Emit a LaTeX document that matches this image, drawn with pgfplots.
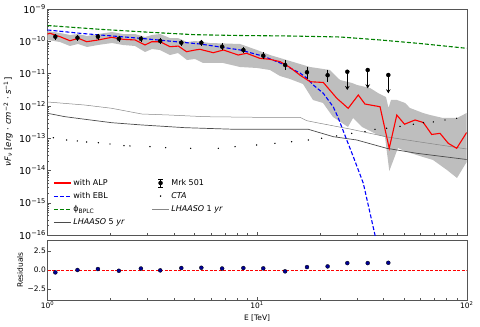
\documentclass[border=0pt]{standalone}
\usepackage{fontspec}
\setmainfont{DejaVu Sans}
\usepackage{pgfplots}
\pgfplotsset{compat=1.18}
\usetikzlibrary{arrows.meta}

\definecolor{bandgray}{RGB}{190,190,190}
\definecolor{framegray}{RGB}{85,85,85}
\definecolor{lhfive}{RGB}{75,75,75}
\definecolor{lhone}{RGB}{135,135,135}
\definecolor{mplgreen}{RGB}{0,128,0}
\definecolor{navy}{RGB}{0,0,150}

\begin{document}
\begin{tikzpicture}
% ---------------- main SED panel ----------------
\begin{axis}[at={(47.5pt,92pt)}, anchor=south west,
  scale only axis, width=419.2pt, height=226pt,
  xmode=log, xmin=1, xmax=100,
  ymode=log, ymin=1e-16, ymax=1e-9,
  axis line style={framegray}, tick align=inside,
  xtick pos=bottom, ytick pos=left,
  major tick length=3.5pt, minor tick length=2pt,
  tick style={framegray},
  xtick={1,10,100}, xticklabels={,,},
  ytick={1e-16,1e-15,1e-14,1e-13,1e-12,1e-11,1e-10,1e-9},
  yticklabels={10\textsuperscript{−16},10\textsuperscript{−15},10\textsuperscript{−14},10\textsuperscript{−13},
               10\textsuperscript{−12},10\textsuperscript{−11},10\textsuperscript{−10},10\textsuperscript{−9}},
  yticklabel style={font=\fontsize{9.5}{11}\selectfont, inner sep=1.5pt},
  ylabel={\textit{νF}\textsubscript{\textit{ν}} [\textit{erg} · \textit{cm}\textsuperscript{−2} · \textit{s}\textsuperscript{−1}]},
  ylabel style={at={(axis description cs:-0.094,0.5)}, anchor=center, font=\fontsize{8.5}{10}\selectfont},
  legend columns=2,
  legend cell align=left,
  legend style={at={(0.006,0.2655)}, anchor=north west, draw=none, fill=none,
    font=\fontsize{8}{9.6}\selectfont, row sep=1.5pt,
    /tikz/every even column/.append style={column sep=25pt}},
]

% ALP uncertainty band (upper edge, then lower edge backwards)
\addplot[fill=bandgray, draw=none, forget plot] coordinates {
 (1.000,2.08e-10) (1.147,1.81e-10) (1.280,1.57e-10) (1.398,1.68e-10) (1.543,1.46e-10)
 (1.741,1.68e-10) (2.031,1.94e-10) (2.292,1.68e-10) (2.616,1.68e-10) (2.919,1.36e-10)
 (3.152,1.57e-10) (3.441,1.68e-10) (3.841,1.26e-10) (4.195,1.26e-10) (4.630,9.51e-11)
 (5.054,1.02e-10) (5.962,8.85e-11) (8.287,8.25e-11) (9.99,5.37e-11) (11.52,3.76e-11)
 (12.86,3.04e-11) (14.35,2.45e-11) (16.02,1.98e-11) (17.88,1.60e-11) (22.27,1.29e-11)
 (24.86,6.33e-12) (28.37,5.11e-12) (29.98,4.43e-12) (34.57,3.58e-12) (37.75,2.50e-12)
 (41.21,1.88e-12) (42.36,8.59e-13) (43.54,1.52e-12) (46.50,1.52e-12) (50.77,1.23e-12)
 (53.63,8.59e-13) (61.87,6.02e-13) (66.83,5.22e-13) (77.09,4.21e-13) (89.90,4.21e-13)
 (100,6.02e-13)
 (100,1.83e-14) (89.90,5.84e-15) (80.53,1.03e-14) (69.07,2.11e-14) (61.87,2.61e-14)
 (51.90,3.73e-14) (47.00,4.96e-14) (42.73,9.6e-15) (40.76,1.09e-13) (37.75,1.25e-13)
 (31.66,2.22e-13) (28.69,4.21e-13) (27.14,2.22e-13) (25.41,2.95e-13) (23.02,4.52e-13)
 (20.63,1.23e-12) (18.48,1.52e-12) (16.56,4.76e-12) (14.35,6.79e-12) (12.86,8.41e-12)
 (11.52,1.29e-11) (9.99,1.49e-11) (8.287,1.60e-11) (6.876,2.13e-11) (5.520,2.13e-11)
 (5.054,2.83e-11) (4.630,2.63e-11) (4.195,4.34e-11) (3.841,3.76e-11) (3.441,5.37e-11)
 (3.152,5.77e-11) (2.919,4.66e-11) (2.616,7.15e-11) (2.292,7.68e-11) (2.031,8.85e-11)
 (1.741,7.68e-11) (1.543,6.66e-11) (1.398,8.25e-11) (1.280,7.15e-11) (1.147,9.51e-11)
 (1.000,1.10e-10)
} -- cycle;

% LHAASO 1 yr sensitivity
\addplot[lhone, line width=0.5pt, forget plot] coordinates {
 (1.0,1.32e-12) (1.510,1.06e-12) (2.025,8.41e-13) (2.815,5.60e-13) (3.771,5.22e-13)
 (5.642,4.62e-13) (9.77,4.43e-13) (16.02,4.43e-13) (17.25,3.48e-13) (19.96,2.88e-13)
 (27.75,1.92e-13) (41.66,1.09e-13) (59.88,7.60e-14) (100,4.62e-14)
};
% LHAASO 5 yr sensitivity
\addplot[lhfive, line width=0.7pt, forget plot] coordinates {
 (1.0,5.89e-13) (1.212,4.62e-13) (1.510,3.84e-13) (2.025,3.01e-13) (2.815,2.56e-13)
 (4.529,2.11e-13) (7.85,1.88e-13) (17.55,1.88e-13) (23.10,1.11e-13) (29.88,8.77e-14)
 (41.5,4.85e-14) (57.73,3.40e-14) (100,2.18e-14)
};
% CTA sensitivity
\addplot[only marks, mark=*, mark size=0.45pt, black, forget plot] coordinates {
 (1.066,1.03e-13) (1.235,8.77e-14) (1.387,8.17e-14) (1.538,7.60e-14) (1.748,7.23e-14)
 (1.987,6.59e-14) (2.317,5.84e-14) (2.475,5.72e-14) (3.083,5.44e-14) (3.664,5.06e-14)
 (4.823,4.85e-14) (6.53,4.85e-14) (7.85,5.44e-14) (9.95,6.14e-14) (12.17,6.93e-14)
 (14.62,7.77e-14) (17.55,8.77e-14) (20.33,9.90e-14) (23.98,1.17e-13) (28.27,1.41e-13)
 (32.71,1.59e-13) (36.52,1.88e-13) (41.5,2.02e-13) (48.07,2.33e-13) (55.63,2.69e-13)
 (62.1,3.01e-13) (69.28,3.17e-13) (78.8,3.65e-13) (89.6,4.12e-13)
};
% with EBL
\addplot[blue, line width=1.1pt, dash pattern=on 4pt off 2pt, forget plot] coordinates {
 (1.0,2.24e-10) (1.429,1.77e-10) (2.763,1.24e-10) (5.34,8.25e-11) (8.287,5.4e-11)
 (10.71,3.45e-11) (13.6,1.85e-11) (14.35,1.49e-11) (16.02,1.04e-11) (17.25,7.3e-12)
 (18.54,4.43e-12) (20.7,2.45e-12) (23.10,9.23e-13) (24.40,4.21e-13) (26.77,8.77e-14)
 (28.77,2.67e-14) (32.12,4.0e-15) (36.52,1e-16) (38.6,2.4e-17)
};
% phi_BPLC
\addplot[mplgreen, line width=1.1pt, dash pattern=on 4pt off 2pt, forget plot] coordinates {
 (1.0,3.08e-10) (1.780,2.35e-10) (3.083,1.90e-10) (5.054,1.60e-10) (8.287,1.51e-10)
 (14.35,1.46e-10) (24.86,1.36e-10) (38.6,1.10e-10) (59.88,8.54e-11) (100,6.07e-11)
};
% with ALP
\addplot[red, line width=1.1pt, forget plot] coordinates {
 (1.00,1.68e-10) (1.028,1.77e-10) (1.147,1.39e-10) (1.280,1.04e-10) (1.403,1.24e-10)
 (1.538,9.7e-11) (1.748,1.10e-10) (2.025,1.33e-10) (2.30,1.15e-10) (2.616,1.10e-10)
 (2.92,7.7e-11) (3.14,9.7e-11) (3.44,9.7e-11) (3.84,6.8e-11) (4.21,7.1e-11)
 (4.61,4.76e-11) (5.06,5.37e-11) (5.34,5.65e-11) (6.18,4.43e-11) (6.90,5.37e-11)
 (8.13,3.76e-11) (8.91,4.25e-11) (10.3,2.97e-11) (11.5,2.77e-11) (12.9,2.33e-11)
 (14.35,1.55e-11) (16.0,9.0e-12) (17.9,5.6e-12) (20.7,5.3e-12) (24.0,1.72e-12)
 (27.2,8.4e-13) (30.4,2.17e-12) (32.7,1.14e-12) (38.6,9.4e-13) (42.7,4.85e-14)
 (46.4,5.2e-13) (50.5,2.7e-13) (56.7,3.65e-13) (62.1,3.05e-13) (68.1,1.30e-13)
 (74.6,1.41e-13) (81.7,6.9e-14) (89.6,4.85e-14) (100,1.5e-13)
};
% Mrk 501 data
\addplot[black, only marks, mark=*, mark size=2pt, forget plot,
  error bars/.cd, y dir=both, y explicit,
  error bar style={black, line width=0.6pt},
  error mark options={black, mark size=2.5pt, line width=0.6pt}] coordinates {
 (1.09,1.39e-10) +- (0,5e-12)   (1.39,1.29e-10) +- (0,5e-12)   (1.74,1.39e-10) +- (0,5e-12)
 (2.19,1.20e-10) +- (0,5e-12)   (2.79,1.20e-10) +- (0,5e-12)   (3.45,1.02e-10) +- (0,4e-12)
 (4.35,9.05e-11) +- (0,4e-12)   (5.42,9.05e-11) +- (0,4e-12)   (6.81,6.8e-11) +- (0,4e-12)
 (8.60,5.38e-11) +- (0,3e-12)   (10.7,3.58e-11) +- (0,3e-12)   (13.6,1.85e-11) +- (0,2.8e-12)
 (17.3,1.10e-11) +- (0,2.6e-12) (21.7,8.9e-12) +- (0,2.2e-12)
};
% upper limits
\addplot[black, line width=0.7pt, -{Stealth[length=4pt,width=4.5pt]}, forget plot]
  coordinates {(26.94,1.14e-11) (26.94,3.1e-12)};
\addplot[black, line width=0.7pt, -{Stealth[length=4pt,width=4.5pt]}, forget plot]
  coordinates {(33.71,1.29e-11) (33.71,3.5e-12)};
\addplot[black, line width=0.7pt, -{Stealth[length=4pt,width=4.5pt]}, forget plot]
  coordinates {(42.27,9.04e-12) (42.27,2.45e-12)};
\addplot[black, only marks, mark=*, mark size=2pt, forget plot]
  coordinates {(26.94,1.14e-11) (33.71,1.29e-11) (42.27,9.04e-12)};

% legend, filled row by row
\addlegendimage{red, line width=1.1pt}
\addlegendentry{with ALP}
\addlegendimage{legend image code/.code={
  \draw[black, line width=0.6pt] (0.3cm,-4pt) -- (0.3cm,4pt);
  \draw[black, line width=0.6pt] (0.3cm-2.5pt,-4pt) -- (0.3cm+2.5pt,-4pt);
  \draw[black, line width=0.6pt] (0.3cm-2.5pt,4pt) -- (0.3cm+2.5pt,4pt);
  \fill[black] (0.3cm,0pt) circle (2pt);}}
\addlegendentry{Mrk 501}
\addlegendimage{blue, line width=1.1pt, dash pattern=on 4pt off 2pt}
\addlegendentry{with EBL}
\addlegendimage{only marks, mark=*, mark size=0.5pt, black}
\addlegendentry{\textit{CTA}}
\addlegendimage{mplgreen, line width=1.1pt, dash pattern=on 4pt off 2pt}
\addlegendentry{ϕ\textsubscript{BPLC}}
\addlegendimage{lhone, line width=0.5pt}
\addlegendentry{\textit{LHAASO} 1 \textit{yr}}
\addlegendimage{lhfive, line width=0.7pt}
\addlegendentry{\textit{LHAASO} 5 \textit{yr}}
\end{axis}

% ---------------- residual panel ----------------
\begin{axis}[at={(47.5pt,27pt)}, anchor=south west,
  scale only axis, width=419.2pt, height=60pt,
  xmode=log, xmin=1, xmax=100,
  ymin=-4, ymax=4,
  axis line style={framegray}, tick align=inside,
  xtick pos=bottom, ytick pos=left,
  major tick length=3.5pt, minor tick length=2pt,
  tick style={framegray},
  ytick={-2.5,0,2.5}, yticklabels={−2.5,0.0,2.5},
  xtick={1,10,100}, xticklabels={10\textsuperscript{0},10\textsuperscript{1},10\textsuperscript{2}},
  ticklabel style={font=\fontsize{7.5}{9}\selectfont, inner sep=1.5pt},
  xlabel={E [TeV]}, ylabel={Residuals},
  xlabel style={at={(axis description cs:0.5,-0.3)}, anchor=center, font=\fontsize{7.5}{9}\selectfont},
  ylabel style={at={(axis description cs:-0.0656,0.5)}, anchor=center, font=\fontsize{7.5}{9}\selectfont},
]
\addplot[red, line width=0.8pt, dash pattern=on 3pt off 1.5pt] coordinates {(1,0) (100,0)};
\addplot[only marks, mark=*, mark size=2pt, mark options={fill=navy, draw=black, line width=0.3pt}] coordinates {
 (1.09,-0.32) (1.39,0.0) (1.74,0.13) (2.19,-0.1) (2.79,0.2) (3.45,-0.05) (4.35,0.26)
 (5.42,0.3) (6.81,0.2) (8.60,0.26) (10.7,0.22) (13.6,-0.18) (17.3,0.39) (21.7,0.48)
 (26.94,0.92) (33.71,0.92) (42.27,0.96)
};
\end{axis}

\pgfresetboundingbox
\path[use as bounding box] (0,0) rectangle (480pt,327pt);
\end{tikzpicture}
\end{document}
